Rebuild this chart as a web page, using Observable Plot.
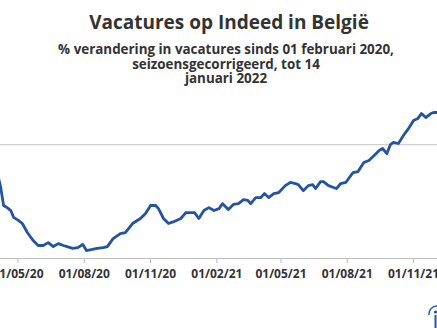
<!DOCTYPE html>
<html>
<head>
<meta charset="utf-8">
<script src="https://cdn.jsdelivr.net/npm/d3@7"></script>
<script src="https://cdn.jsdelivr.net/npm/@observablehq/plot@0.6"></script>
<style>
  html, body { margin: 0; padding: 0; background: #fff; }
  body { width: 437px; height: 328px; position: relative; overflow: hidden; font-family: "Open Sans", "Noto Sans", sans-serif; }
  #title { position: absolute; left: 0; top: 10px; width: 458px; text-align: center; font-size: 19px; font-weight: 700; color: #333; line-height: 24px; }
  #subtitle { position: absolute; left: 0; top: 42px; width: 452px; text-align: center; font-size: 13.4px; font-weight: 700; color: #333; line-height: 14.5px; }
  #chart { position: absolute; left: 0; top: 90px; }
  #chart svg { overflow: hidden; }
  #logo { position: absolute; left: 428px; top: 303px; }
</style>
</head>
<body>
<div id="title">Vacatures op Indeed in België</div>
<div id="subtitle">% verandering in vacatures sinds 01 februari 2020,<br>seizoensgecorrigeerd, tot 14<br>januari 2022</div>
<div id="chart"></div>
<svg id="logo" width="9" height="25" viewBox="0 0 9 25">
  <path d="M 1 12 A 8 8 0 0 1 9 3" fill="none" stroke="#2557a7" stroke-width="1.4"/>
  <circle cx="7.5" cy="9" r="1.6" fill="#2557a7"/>
  <rect x="6.5" y="12" width="2" height="13" fill="#2557a7"/>
</svg>
<script>
const dates = ["2020-04-02","2020-04-07","2020-04-11","2020-04-16","2020-04-21","2020-04-25","2020-05-02","2020-05-07","2020-05-14","2020-05-22","2020-05-29","2020-06-05","2020-06-12","2020-06-19","2020-06-26","2020-07-03","2020-07-16","2020-07-23","2020-07-30","2020-08-04","2020-08-12","2020-08-19","2020-08-27","2020-09-02","2020-09-10","2020-09-20","2020-09-27","2020-10-07","2020-10-18","2020-10-25","2020-11-01","2020-11-08","2020-11-12","2020-11-19","2020-11-26","2020-12-03","2020-12-13","2020-12-20","2020-12-27","2021-01-01","2021-01-07","2021-01-14","2021-01-21","2021-01-28","2021-02-04","2021-02-09","2021-02-17","2021-02-24","2021-03-03","2021-03-10","2021-03-16","2021-03-20","2021-03-27","2021-04-03","2021-04-08","2021-04-14","2021-04-21","2021-04-28","2021-05-07","2021-05-14","2021-05-21","2021-05-25","2021-06-01","2021-06-08","2021-06-14","2021-06-18","2021-06-25","2021-06-29","2021-07-06","2021-07-13","2021-07-17","2021-07-23","2021-07-30","2021-08-03","2021-08-09","2021-08-16","2021-08-24","2021-08-31","2021-09-07","2021-09-14","2021-09-19","2021-09-25","2021-09-30","2021-10-04","2021-10-11","2021-10-18","2021-10-25","2021-11-01","2021-11-07","2021-11-12","2021-11-18","2021-11-25","2021-11-29","2021-12-05","2021-12-12"];
const values = [-10.2,-16.2,-23.0,-23.8,-24.9,-27.5,-28.7,-29.8,-33.2,-36.2,-38.1,-38.1,-37.0,-38.5,-37.4,-38.1,-39.2,-38.9,-37.7,-40.0,-39.6,-39.2,-38.9,-38.5,-35.5,-33.6,-33.2,-29.8,-27.9,-26.0,-23.0,-23.0,-24.2,-27.9,-29.8,-29.1,-27.9,-25.7,-25.7,-25.7,-27.9,-24.9,-23.8,-24.9,-24.2,-22.3,-24.5,-22.6,-22.3,-20.8,-21.1,-22.3,-20.0,-20.0,-18.5,-20.0,-18.5,-18.1,-15.5,-14.3,-14.7,-15.1,-17.4,-15.5,-15.1,-16.6,-14.0,-14.0,-15.5,-16.2,-16.6,-14.7,-14.3,-12.8,-10.6,-10.2,-6.8,-6.0,-4.2,-2.3,-1.5,-3.4,0.0,0.8,0.4,3.4,6.0,9.1,9.8,11.7,10.2,11.7,12.1,12.1,12.5];
const tickDates = ["2020-05-01","2020-08-01","2020-11-01","2021-02-01","2021-05-01","2021-08-01","2021-11-01"];
const xDomain = ["2020-04-06T17:00:00Z","2021-12-04T07:00:00Z"];
const yDomain = [-43.0, 20.4];

const data = dates.map((d, i) => ({date: new Date(d), value: values[i]}));

const chart = Plot.plot({
  width: 437,
  height: 238,
  marginLeft: 0,
  marginRight: 0,
  marginTop: 0,
  marginBottom: 70,
  style: {fontFamily: "'Open Sans', 'Noto Sans', sans-serif", overflow: "hidden", background: "white"},
  x: {type: "utc", domain: xDomain.map(d => new Date(d))},
  y: {domain: yDomain, axis: null},
  marks: [
    Plot.ruleY([0], {stroke: "#cfcfcf", strokeWidth: 1.2}),
    Plot.ruleY([yDomain[0]], {stroke: "#bdbdbd", strokeWidth: 1.2}),
    Plot.axisX(tickDates.map(d => new Date(d)), {
      tickFormat: d3.utcFormat("%d/%m/%y"),
      tickSize: 5,
      tickPadding: 6,
      stroke: "#bdbdbd",
      fill: "#333",
      fontSize: 12,
      fontWeight: 700,
      label: null
    }),
    Plot.line(data, {x: "date", y: "value", stroke: "#2353a3", strokeWidth: 2.8, curve: "linear"})
  ]
});
document.getElementById("chart").appendChild(chart);
</script>
</body>
</html>
